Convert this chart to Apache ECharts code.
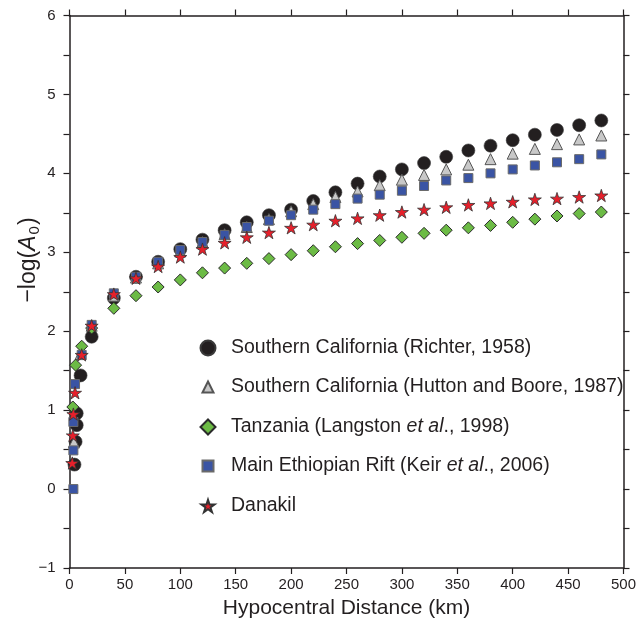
<!DOCTYPE html>
<html><head><meta charset="utf-8">
<script src="https://cdn.jsdelivr.net/npm/echarts@6/dist/echarts.min.js"></script>
<style>html,body{margin:0;padding:0;background:#fff}#c{width:639px;height:630px}</style>
</head><body><div id="c"></div>
<script>
// ---- data ----
const xTicks = [0, 50, 100, 150, 200, 250, 300, 350, 400, 450, 500];
const yTicks = [-1, 0, 1, 2, 3, 4, 5, 6];
const farDist = [40, 60, 80, 100, 120, 140, 160, 180, 200, 220, 240, 260, 280, 300, 320, 340, 360, 380, 400, 420, 440, 460, 480];

const richterDist = [4.5, 5.5, 6.5, 6.5, 10, 20].concat(farDist);
const richterVal = [0.31, 0.60, 0.81, 0.96, 1.44, 1.93,
  2.42, 2.69, 2.88, 3.04, 3.16, 3.28, 3.38, 3.47, 3.54, 3.65, 3.76, 3.87, 3.96, 4.05, 4.13, 4.21, 4.29, 4.35, 4.42, 4.49, 4.55, 4.61, 4.67];

const huttonDist = [4, 10, 20].concat(farDist);
const huttonVal = [0.59, 1.71, 2.07,
  2.45, 2.68, 2.86, 3.01, 3.13, 3.23, 3.32, 3.42, 3.52, 3.61, 3.70, 3.77, 3.85, 3.92, 3.98, 4.05, 4.11, 4.18, 4.25, 4.31, 4.37, 4.43, 4.48];

const tanzDist = [3, 5.5, 11, 20].concat(farDist);
const tanzVal = [1.04, 1.57, 1.81, 2.04,
  2.29, 2.45, 2.56, 2.65, 2.74, 2.80, 2.86, 2.92, 2.97, 3.02, 3.07, 3.11, 3.15, 3.19, 3.24, 3.28, 3.31, 3.34, 3.38, 3.42, 3.46, 3.49, 3.51];

const merDist = [3.5, 3.5, 3.5, 5, 11, 20].concat(farDist);
const merVal = [0.00, 0.49, 0.85, 1.33, 1.70, 2.08,
  2.48, 2.69, 2.88, 3.03, 3.13, 3.22, 3.32, 3.40, 3.47, 3.54, 3.61, 3.68, 3.73, 3.78, 3.84, 3.91, 3.94, 4.00, 4.05, 4.10, 4.14, 4.18, 4.24];

const danDist = [2.5, 3, 3.5, 5, 11, 20].concat(farDist);
const danVal = [0.33, 0.68, 0.95, 1.22, 1.70, 2.07,
  2.47, 2.67, 2.82, 2.94, 3.04, 3.12, 3.19, 3.25, 3.31, 3.35, 3.40, 3.43, 3.47, 3.51, 3.54, 3.57, 3.60, 3.62, 3.64, 3.67, 3.68, 3.70, 3.72];

const seriesNames = [
  'Southern California (Richter, 1958)',
  'Southern California (Hutton and Boore, 1987)',
  'Tanzania (Langston et al., 1998)',
  'Main Ethiopian Rift (Keir et al., 2006)',
  'Danakil'
];
const legendRich = [
  '{n|Southern California (Richter, 1958)}',
  '{n|Southern California (Hutton and Boore, 1987)}',
  '{n|Tanzania (Langston }{i|et al}{n|., 1998)}',
  '{n|Main Ethiopian Rift (Keir }{i|et al}{n|., 2006)}',
  '{n|Danakil}'
];

// ---- chart ----
const INK = '#231f20';
const FONT = '"Liberation Sans", Arial, Helvetica, sans-serif';
const STAR = 'path://M0,-100L22.45,-30.9L95.1,-30.9L36.33,11.8L58.78,80.9L0,38.2L-58.78,80.9L-36.33,11.8L-95.1,-30.9L-22.45,-30.9Z';
function zip(d, v) { return d.map((x, i) => [x, v[i]]); }

const styles = [
  { symbol: 'circle', size: 13, legendSize: 15, color: INK, border: '#3a3a3a', bw: 0.6, data: zip(richterDist, richterVal) },
  { symbol: 'triangle', size: 11, legendSize: 11, color: '#c8c8c8', border: '#555555', bw: 1, data: zip(huttonDist, huttonVal) },
  { symbol: 'diamond', size: 12, legendSize: 15, color: '#6cbb45', border: '#2a2a2a', bw: 1, data: zip(tanzDist, tanzVal) },
  { symbol: 'rect', size: 9, legendSize: 11, color: '#3a54a4', border: '#6a6a6a', bw: 1, data: zip(merDist, merVal) },
  { symbol: STAR, size: 13, legendSize: 13, color: '#e6202b', border: '#333333', bw: 0.8, data: zip(danDist, danVal) }
];

const rowY = [349, 388, 428, 467, 507];
const iconX = 207, textX = 230;
const LH = 22;
const legends = styles.map((s, i) => ({
  data: [seriesNames[i]],
  orient: 'vertical',
  left: iconX - s.legendSize / 2,
  top: rowY[i] - LH / 2,
  padding: 0,
  itemWidth: s.legendSize,
  itemHeight: s.legendSize,
  selectedMode: false,
  formatter: () => legendRich[i],
  textStyle: {
    padding: [0, 0, 0, textX - (iconX + s.legendSize / 2 + 5)],
    rich: {
      n: { fontFamily: FONT, fontSize: 19.5, color: INK, lineHeight: LH },
      i: { fontFamily: FONT, fontSize: 19.5, color: INK, fontStyle: 'italic', lineHeight: LH }
    }
  }
}));

const axisLine = { show: true, onZero: false, lineStyle: { color: INK, width: 1.5 } };
const tickStyle = { show: true, inside: false, length: 6, lineStyle: { color: INK, width: 1.2 } };

const option = {
  animation: false,
  backgroundColor: '#ffffff',
  grid: { left: 69.5, right: 15, top: 15.5, bottom: 62, containLabel: false },
  legend: legends,
  xAxis: [
    {
      type: 'value', position: 'bottom', min: xTicks[0], max: xTicks[xTicks.length - 1], interval: 50,
      axisLine, axisTick: tickStyle, splitLine: { show: false },
      axisLabel: { color: INK, fontFamily: FONT, fontSize: 15, margin: 9, formatter: v => String(v) },
      name: 'Hypocentral Distance (km)', nameLocation: 'middle', nameGap: 30,
      nameTextStyle: { color: INK, fontFamily: FONT, fontSize: 21 }
    },
    {
      type: 'value', position: 'top', min: xTicks[0], max: xTicks[xTicks.length - 1], interval: 50,
      axisLine, axisTick: tickStyle, axisLabel: { show: false }, splitLine: { show: false }
    }
  ],
  yAxis: [
    {
      type: 'value', position: 'left', min: yTicks[0], max: yTicks[yTicks.length - 1], interval: 1,
      axisLine, axisTick: tickStyle, splitLine: { show: false },
      minorTick: { show: true, splitNumber: 2, length: 6, lineStyle: { color: INK, width: 1.2 } },
      axisLabel: { color: INK, fontFamily: FONT, fontSize: 15, margin: 14, formatter: v => (v < 0 ? '\u2212' + Math.abs(v) : String(v)) }
    },
    {
      type: 'value', position: 'right', min: yTicks[0], max: yTicks[yTicks.length - 1], interval: 0.5,
      axisLine, axisTick: tickStyle, axisLabel: { show: false }, splitLine: { show: false }
    }
  ],
  graphic: [{
    type: 'text', x: 29, y: 260, rotation: Math.PI / 2,
    style: {
      text: '{n|\u2212log(}{i|A}{s|0}{n|)}',
      align: 'center', verticalAlign: 'middle', textAlign: 'center', textVerticalAlign: 'middle',
      fill: INK,
      rich: {
        n: { fontFamily: FONT, fontSize: 23, fill: INK, color: INK },
        i: { fontFamily: FONT, fontSize: 23, fontStyle: 'italic', fill: INK, color: INK },
        s: { fontFamily: FONT, fontSize: 15, fill: INK, color: INK, padding: [12, 1, 0, 1] }
      }
    }
  }],
  series: styles.map((s, i) => ({
    name: seriesNames[i],
    type: 'scatter',
    xAxisIndex: 0, yAxisIndex: 0,
    symbol: s.symbol,
    symbolSize: s.size,
    symbolKeepAspect: true,
    data: s.data,
    itemStyle: { color: s.color, borderColor: s.border, borderWidth: s.bw, opacity: 1 },
    emphasis: { disabled: true },
    z: 2 + i
  }))
};
const chart = echarts.init(document.getElementById('c'));
chart.setOption(option);
</script></body></html>
